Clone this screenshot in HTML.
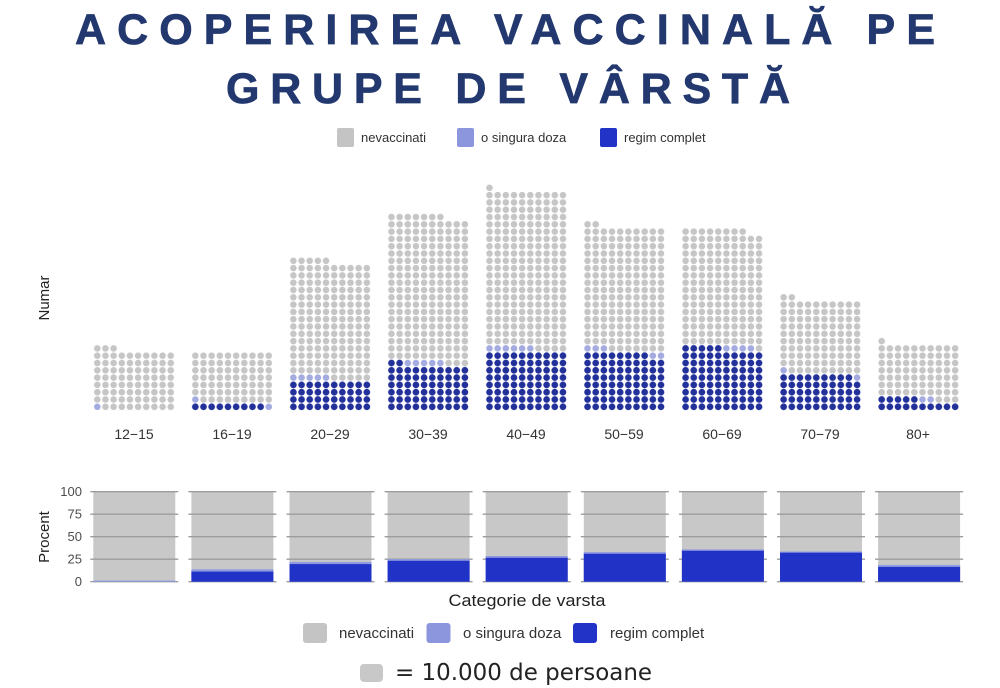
<!DOCTYPE html>
<html>
<head>
<meta charset="utf-8">
<style>
html,body{margin:0;padding:0;background:#fff;}
svg{display:block;}
text{font-family:"Liberation Sans",Arial,sans-serif;}
</style>
</head>
<body>
<svg width="1000" height="688" viewBox="0 0 1000 688" xmlns="http://www.w3.org/2000/svg">
<defs>
<pattern id="pg" width="8.16" height="7.3" patternUnits="userSpaceOnUse"><circle cx="4.08" cy="3.65" r="3.3" fill="#c6c6c6"/></pattern>
<pattern id="pl" width="8.16" height="7.3" patternUnits="userSpaceOnUse"><circle cx="4.08" cy="3.65" r="3.3" fill="#a3abe0"/></pattern>
<pattern id="pd" width="8.16" height="7.3" patternUnits="userSpaceOnUse"><circle cx="4.08" cy="3.65" r="3.35" fill="#22309a"/></pattern>
</defs>

<!-- Title -->
<text x="75" y="44" textLength="860" lengthAdjust="spacing" font-size="43" font-weight="bold" fill="#22386f" stroke="#22386f" stroke-width="0.7">ACOPERIREA VACCINALĂ PE</text>
<text x="226" y="103" textLength="564" lengthAdjust="spacing" font-size="43" font-weight="bold" fill="#22386f" stroke="#22386f" stroke-width="0.7">GRUPE DE VÂRSTĂ</text>

<!-- Top legend -->
<rect x="337" y="128" width="17" height="19" rx="2" fill="#c4c4c4"/>
<text x="361" y="142" font-size="13" fill="#333">nevaccinati</text>
<rect x="457" y="128" width="17" height="19" rx="2" fill="#8c96dc"/>
<text x="481" y="142" font-size="13" fill="#333">o singura doza</text>
<rect x="600" y="128" width="17" height="19" rx="2" fill="#2233c8"/>
<text x="624" y="142" font-size="13" fill="#333">regim complet</text>

<!-- Numar label -->
<text transform="translate(49,298) rotate(-90)" text-anchor="middle" font-size="15" fill="#222">Numar</text>

<!-- Waffle groups -->
<g transform="translate(93.22,410.45)">
<rect x="0" y="-7.3" width="8.16" height="7.3" fill="url(#pl)"/>
<rect x="8.16" y="-7.3" width="73.44" height="7.3" fill="url(#pg)"/>
<rect x="0" y="-58.4" width="81.6" height="51.1" fill="url(#pg)"/>
<rect x="0" y="-65.7" width="24.48" height="7.3" fill="url(#pg)"/>
</g>
<g transform="translate(191.27,410.45)">
<rect x="0" y="-7.3" width="73.44" height="7.3" fill="url(#pd)"/>
<rect x="73.44" y="-7.3" width="8.16" height="7.3" fill="url(#pl)"/>
<rect x="0" y="-14.6" width="8.16" height="7.3" fill="url(#pl)"/>
<rect x="8.16" y="-14.6" width="73.44" height="7.3" fill="url(#pg)"/>
<rect x="0" y="-58.4" width="81.6" height="43.8" fill="url(#pg)"/>
</g>
<g transform="translate(289.32,410.45)">
<rect x="0" y="-29.2" width="81.6" height="29.2" fill="url(#pd)"/>
<rect x="0" y="-36.5" width="40.8" height="7.3" fill="url(#pl)"/>
<rect x="40.8" y="-36.5" width="40.8" height="7.3" fill="url(#pg)"/>
<rect x="0" y="-146" width="81.6" height="109.5" fill="url(#pg)"/>
<rect x="0" y="-153.3" width="40.8" height="7.3" fill="url(#pg)"/>
</g>
<g transform="translate(387.37,410.45)">
<rect x="0" y="-43.8" width="81.6" height="43.8" fill="url(#pd)"/>
<rect x="0" y="-51.1" width="16.32" height="7.3" fill="url(#pd)"/>
<rect x="16.32" y="-51.1" width="40.8" height="7.3" fill="url(#pl)"/>
<rect x="57.12" y="-51.1" width="24.48" height="7.3" fill="url(#pg)"/>
<rect x="0" y="-189.8" width="81.6" height="138.7" fill="url(#pg)"/>
<rect x="0" y="-197.1" width="57.12" height="7.3" fill="url(#pg)"/>
</g>
<g transform="translate(485.42,410.45)">
<rect x="0" y="-58.4" width="81.6" height="58.4" fill="url(#pd)"/>
<rect x="0" y="-65.7" width="48.96" height="7.3" fill="url(#pl)"/>
<rect x="48.96" y="-65.7" width="32.64" height="7.3" fill="url(#pg)"/>
<rect x="0" y="-219" width="81.6" height="153.3" fill="url(#pg)"/>
<rect x="0" y="-226.3" width="8.16" height="7.3" fill="url(#pg)"/>
</g>
<g transform="translate(583.47,410.45)">
<rect x="0" y="-51.1" width="81.6" height="51.1" fill="url(#pd)"/>
<rect x="0" y="-58.4" width="65.28" height="7.3" fill="url(#pd)"/>
<rect x="65.28" y="-58.4" width="16.32" height="7.3" fill="url(#pl)"/>
<rect x="0" y="-65.7" width="24.48" height="7.3" fill="url(#pl)"/>
<rect x="24.48" y="-65.7" width="57.12" height="7.3" fill="url(#pg)"/>
<rect x="0" y="-182.5" width="81.6" height="116.8" fill="url(#pg)"/>
<rect x="0" y="-189.8" width="16.32" height="7.3" fill="url(#pg)"/>
</g>
<g transform="translate(681.52,410.45)">
<rect x="0" y="-58.4" width="81.6" height="58.4" fill="url(#pd)"/>
<rect x="0" y="-65.7" width="40.8" height="7.3" fill="url(#pd)"/>
<rect x="40.8" y="-65.7" width="32.64" height="7.3" fill="url(#pl)"/>
<rect x="73.44" y="-65.7" width="8.16" height="7.3" fill="url(#pg)"/>
<rect x="0" y="-175.2" width="81.6" height="109.5" fill="url(#pg)"/>
<rect x="0" y="-182.5" width="65.28" height="7.3" fill="url(#pg)"/>
</g>
<g transform="translate(779.57,410.45)">
<rect x="0" y="-29.2" width="81.6" height="29.2" fill="url(#pd)"/>
<rect x="0" y="-36.5" width="73.44" height="7.3" fill="url(#pd)"/>
<rect x="73.44" y="-36.5" width="8.16" height="7.3" fill="url(#pl)"/>
<rect x="0" y="-43.8" width="8.16" height="7.3" fill="url(#pl)"/>
<rect x="8.16" y="-43.8" width="73.44" height="7.3" fill="url(#pg)"/>
<rect x="0" y="-109.5" width="81.6" height="65.7" fill="url(#pg)"/>
<rect x="0" y="-116.8" width="16.32" height="7.3" fill="url(#pg)"/>
</g>
<g transform="translate(877.62,410.45)">
<rect x="0" y="-7.3" width="81.6" height="7.3" fill="url(#pd)"/>
<rect x="0" y="-14.6" width="40.8" height="7.3" fill="url(#pd)"/>
<rect x="40.8" y="-14.6" width="16.32" height="7.3" fill="url(#pl)"/>
<rect x="57.12" y="-14.6" width="24.48" height="7.3" fill="url(#pg)"/>
<rect x="0" y="-65.7" width="81.6" height="51.1" fill="url(#pg)"/>
<rect x="0" y="-73" width="8.16" height="7.3" fill="url(#pg)"/>
</g>

<!-- Waffle x labels -->
<g font-size="14" fill="#333" text-anchor="middle">
<text x="134" y="439">12−15</text>
<text x="232" y="439">16−19</text>
<text x="330" y="439">20−29</text>
<text x="428" y="439">30−39</text>
<text x="526" y="439">40−49</text>
<text x="624" y="439">50−59</text>
<text x="722" y="439">60−69</text>
<text x="820" y="439">70−79</text>
<text x="918" y="439">80+</text>
</g>

<!-- Bottom percent chart -->
<text transform="translate(49,537) rotate(-90)" text-anchor="middle" font-size="15" fill="#222">Procent</text>
<g font-size="13" fill="#4d4d4d" text-anchor="end">
<text x="82" y="496">100</text>
<text x="82" y="518.7">75</text>
<text x="82" y="541.2">50</text>
<text x="82" y="563.7">25</text>
<text x="82" y="586.2">0</text>
</g>

<g id="bars">
<g fill="#c8c8c8">
<rect x="93.3" y="491.7" width="82" height="90"/>
<rect x="191.4" y="491.7" width="82" height="90"/>
<rect x="289.5" y="491.7" width="82" height="90"/>
<rect x="387.6" y="491.7" width="82" height="90"/>
<rect x="485.7" y="491.7" width="82" height="90"/>
<rect x="583.8" y="491.7" width="82" height="90"/>
<rect x="681.9" y="491.7" width="82" height="90"/>
<rect x="780" y="491.7" width="82" height="90"/>
<rect x="878.1" y="491.7" width="82" height="90"/>
</g>
<g stroke="#9c9c9c" stroke-width="1.3">
<path d="M90.3 491.7H178.3M90.3 514.2H178.3M90.3 536.7H178.3M90.3 559.2H178.3M90.3 581.7H178.3"/>
<path d="M188.4 491.7H276.4M188.4 514.2H276.4M188.4 536.7H276.4M188.4 559.2H276.4M188.4 581.7H276.4"/>
<path d="M286.5 491.7H374.5M286.5 514.2H374.5M286.5 536.7H374.5M286.5 559.2H374.5M286.5 581.7H374.5"/>
<path d="M384.6 491.7H472.6M384.6 514.2H472.6M384.6 536.7H472.6M384.6 559.2H472.6M384.6 581.7H472.6"/>
<path d="M482.7 491.7H570.7M482.7 514.2H570.7M482.7 536.7H570.7M482.7 559.2H570.7M482.7 581.7H570.7"/>
<path d="M580.8 491.7H668.8M580.8 514.2H668.8M580.8 536.7H668.8M580.8 559.2H668.8M580.8 581.7H668.8"/>
<path d="M678.9 491.7H766.9M678.9 514.2H766.9M678.9 536.7H766.9M678.9 559.2H766.9M678.9 581.7H766.9"/>
<path d="M777 491.7H865M777 514.2H865M777 536.7H865M777 559.2H865M777 581.7H865"/>
<path d="M875.1 491.7H963.1M875.1 514.2H963.1M875.1 536.7H963.1M875.1 559.2H963.1M875.1 581.7H963.1"/>
</g>
<g fill="#8f9ae0">
<rect x="93.3" y="580.6" width="82" height="1.1"/>
<rect x="191.4" y="569.3" width="82" height="12.4"/>
<rect x="289.5" y="561.9" width="82" height="19.8"/>
<rect x="387.6" y="559.1" width="82" height="22.6"/>
<rect x="485.7" y="556" width="82" height="25.7"/>
<rect x="583.8" y="552.1" width="82" height="29.6"/>
<rect x="681.9" y="549.4" width="82" height="32.3"/>
<rect x="780" y="551.5" width="82" height="30.2"/>
<rect x="878.1" y="564.9" width="82" height="16.8"/>
</g>
<g fill="#2132c6">
<rect x="191.4" y="571.6" width="82" height="10.1"/>
<rect x="289.5" y="564.1" width="82" height="17.6"/>
<rect x="387.6" y="560.8" width="82" height="20.9"/>
<rect x="485.7" y="557.8" width="82" height="23.9"/>
<rect x="583.8" y="553.8" width="82" height="27.9"/>
<rect x="681.9" y="550.8" width="82" height="30.9"/>
<rect x="780" y="552.7" width="82" height="29"/>
<rect x="878.1" y="566.9" width="82" height="14.8"/>
</g>
</g>

<text x="527" y="606" text-anchor="middle" font-size="17" textLength="157" lengthAdjust="spacingAndGlyphs" fill="#222">Categorie de varsta</text>

<!-- Bottom legend -->
<rect x="303" y="623" width="24" height="20" rx="3" fill="#c4c4c4"/>
<text x="339" y="638" font-size="15" fill="#333">nevaccinati</text>
<rect x="426.5" y="623" width="24" height="20" rx="3" fill="#8c96dc"/>
<text x="463" y="638" font-size="15" fill="#333">o singura doza</text>
<rect x="573" y="623" width="24" height="20" rx="3" fill="#2233c8"/>
<text x="610" y="638" font-size="15" fill="#333">regim complet</text>

<rect x="360" y="664" width="23" height="18" rx="4" fill="#c8c8c8"/>
<text x="395" y="680" font-size="23" textLength="257" lengthAdjust="spacingAndGlyphs" style="font-family:'DejaVu Sans','Liberation Sans',sans-serif" fill="#222">= 10.000 de persoane</text>
</svg>
</body>
</html>
